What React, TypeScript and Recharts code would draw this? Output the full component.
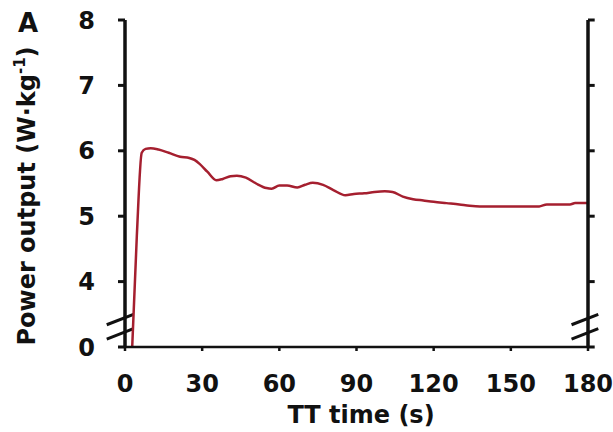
import React from "react";
import { LineChart, Line, XAxis, YAxis, ReferenceLine } from "recharts";

// TT time (s)
const times = [2.8, 4.6, 6.5, 8, 10, 13, 17, 21.4, 25, 27, 29, 32, 35.5, 38, 41, 43.5, 47, 51, 55, 57, 60, 63, 67, 70, 73, 77, 81, 85.7, 89, 93, 97, 101, 104, 108, 112, 116, 120, 125, 130, 134, 138, 150, 161, 164, 173, 175, 180];
// Power output (W·kg-1)
const power = [0, 4.7, 5.97, 6.03, 6.04, 6.02, 5.97, 5.91, 5.89, 5.86, 5.8, 5.68, 5.55, 5.57, 5.61, 5.62, 5.59, 5.5, 5.43, 5.42, 5.47, 5.47, 5.44, 5.48, 5.51, 5.48, 5.4, 5.32, 5.34, 5.35, 5.37, 5.38, 5.37, 5.3, 5.26, 5.24, 5.22, 5.2, 5.18, 5.16, 5.15, 5.15, 5.15, 5.18, 5.18, 5.2, 5.2];

const xTicks = [0, 30, 60, 90, 120, 150, 180];
const yTickValues = [0, 4, 5, 6, 7, 8];

// broken axis: 0..4 compressed into one unit
const toAxis = (v: number) => (v >= 4 ? v : 3 + v / 4);
const fromAxis = (a: number) => (a >= 4 ? a : (a - 3) * 4);

const data = times.map((t, i) => ({ t, p: toAxis(power[i])}));
const yTicks = yTickValues.map(toAxis);

// axis-break marks (data units)
const breakMarks = [
  [{ x: -7.1, y: 3.12 }, { x: 3.3, y: 3.28 }],
  [{ x: -7.1, y: 3.34 }, { x: 3.3, y: 3.5 }],
  [{ x: 173.6, y: 3.12 }, { x: 184, y: 3.28 }],
  [{ x: 173.6, y: 3.34 }, { x: 184, y: 3.5 }],
];

const FONT = "'DejaVu Sans', sans-serif";
const INK = "#111";

const tickStyle = { fontFamily: FONT, fontWeight: 700, fontSize: 24, fill: INK };

export default function App() {
  return (
    <div style={{ position: "absolute", left: 0, top: 0, width: 613, height: 432, background: "#fff" }}>
      <LineChart width={613} height={432} data={data} margin={{ top: 20, right: 0, bottom: 0, left: 0 }}>
        <XAxis
          dataKey="t"
          type="number"
          domain={[0, 180]}
          ticks={xTicks}
          height={85}
          tick={tickStyle}
          tickSize={4}
          tickMargin={24}
          axisLine={{ stroke: INK, strokeWidth: 2.5 }}
          tickLine={{ stroke: INK, strokeWidth: 2.5 }}
          label={{
            content: () => (
              <text x={361} y={423} textAnchor="middle" fontFamily={FONT} fontWeight={700} fontSize={24} fill={INK}>
                TT time (s)
              </text>
            ),
          }}
        />
        <YAxis
          yAxisId="left"
          type="number"
          domain={[3, 8]}
          ticks={yTicks}
          width={125}
          tick={tickStyle}
          tickFormatter={(v: number) => String(Math.round(fromAxis(v)))}
          tickSize={7}
          tickMargin={23}
          axisLine={{ stroke: INK, strokeWidth: 3.5 }}
          tickLine={{ stroke: INK, strokeWidth: 3 }}
          label={{
            content: () => (
              <text
                transform="translate(35,196) rotate(-90)"
                x={0}
                y={0}
                textAnchor="middle"
                fontFamily={FONT}
                fontWeight={700}
                fontSize={24}
                fill={INK}
              >
                Power output (W·kg
                <tspan fontSize={15} dy={-10}>-1</tspan>
                <tspan dy={10}>)</tspan>
              </text>
            ),
          }}
        />
        <YAxis
          yAxisId="right"
          orientation="right"
          type="number"
          domain={[3, 8]}
          ticks={yTicks}
          width={25}
          tick={false}
          tickLine={false}
          axisLine={{ stroke: INK, strokeWidth: 3.5 }}
        />
        {yTicks.map((v) => (
          <ReferenceLine
            key={"rt" + v}
            yAxisId="left"
            segment={[{ x: 180, y: v }, { x: 182.6, y: v }]}
            ifOverflow="visible"
            stroke={INK}
            strokeWidth={3}
          />
        ))}
        {breakMarks.map((seg, i) => (
          <ReferenceLine
            key={i}
            yAxisId="left"
            segment={seg}
            ifOverflow="visible"
            stroke={INK}
            strokeWidth={3}
          />
        ))}
        <Line
          yAxisId="left"
          type="monotone"
          dataKey="p"
          stroke="#a51f2f"
          strokeWidth={2.5}
          dot={false}
          isAnimationActive={false}
        />
      </LineChart>
      <svg width={613} height={432} style={{ position: "absolute", left: 0, top: 0, pointerEvents: "none" }}>
        <text x={18} y={32} fontFamily={FONT} fontWeight={700} fontSize={26} fill={INK}>
          A
        </text>
      </svg>
    </div>
  );
}
